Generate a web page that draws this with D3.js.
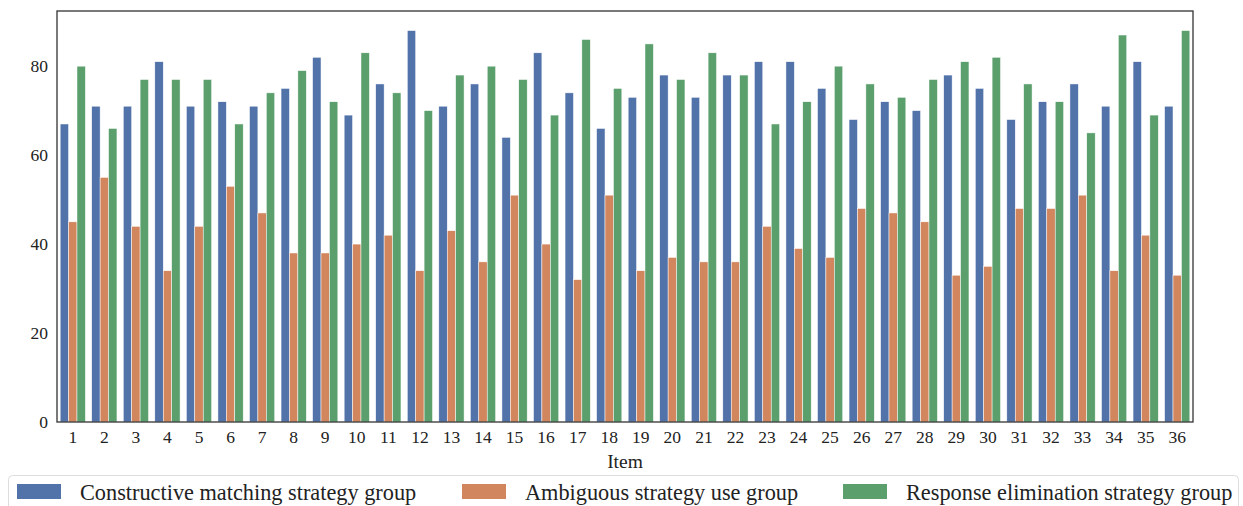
<!DOCTYPE html>
<html>
<head>
<meta charset="utf-8">
<script src="https://cdn.jsdelivr.net/npm/d3@7"></script>
<style>
  body { margin: 0; background: #fff; }
  text { font-family: "Liberation Serif", "Times New Roman", serif; fill: #222; }
</style>
</head>
<body>
<svg id="chart" width="1243" height="506"></svg>
<script>
// item numbers on the x axis
const items = d3.range(1, 37).map(String);

const seriesNames = [
  "Constructive matching strategy group",
  "Ambiguous strategy use group",
  "Response elimination strategy group"
];
const seriesColors = ["#5273AA", "#D2865E", "#5A9F6C"];

// values, one per item
const constructive = [67, 71, 71, 81, 71, 72, 71, 75, 82, 69, 76, 88, 71, 76, 64, 83, 74, 66,
                      73, 78, 73, 78, 81, 81, 75, 68, 72, 70, 78, 75, 68, 72, 76, 71, 81, 71];
const ambiguous    = [45, 55, 44, 34, 44, 53, 47, 38, 38, 40, 42, 34, 43, 36, 51, 40, 32, 51,
                      34, 37, 36, 36, 44, 39, 37, 48, 47, 45, 33, 35, 48, 48, 51, 34, 42, 33];
const elimination  = [80, 66, 77, 77, 77, 67, 74, 79, 72, 83, 74, 70, 78, 80, 77, 69, 86, 75,
                      85, 77, 83, 78, 67, 72, 80, 76, 73, 77, 81, 82, 76, 72, 65, 87, 69, 88];

const yTicks = [0, 20, 40, 60, 80];

const seriesValues = [constructive, ambiguous, elimination];

const margin = {left: 57, right: 50, top: 11, bottom: 84};
const width = 1243, height = 506;
const svg = d3.select("#chart");

const x = d3.scaleBand()
    .domain(items)
    .range([margin.left, width - margin.right])
    .paddingInner(0.2)
    .paddingOuter(0.1);

const xInner = d3.scaleBand()
    .domain(d3.range(seriesNames.length))
    .range([0, x.bandwidth()]);

const yMax = d3.max(seriesValues.flat()) * 1.05;
const y = d3.scaleLinear()
    .domain([0, yMax])
    .range([height - margin.bottom, margin.top]);

// bars
const groups = svg.append("g")
  .selectAll("g")
  .data(items)
  .join("g")
    .attr("transform", d => "translate(" + x(d) + ",0)");

groups.selectAll("rect")
  .data((d, i) => seriesValues.map((vals, s) => ({s: s, v: vals[i]})))
  .join("rect")
    .attr("x", d => xInner(d.s))
    .attr("width", xInner.bandwidth())
    .attr("y", d => y(d.v))
    .attr("height", d => y(0) - y(d.v))
    .attr("fill", d => seriesColors[d.s])
    .attr("stroke", "#fff")
    .attr("stroke-width", 0.5);

// frame
svg.append("rect")
    .attr("x", margin.left)
    .attr("y", margin.top)
    .attr("width", width - margin.left - margin.right)
    .attr("height", height - margin.top - margin.bottom)
    .attr("fill", "none")
    .attr("stroke", "#333")
    .attr("stroke-width", 1.3);

// axes
const xAxis = svg.append("g")
    .attr("transform", "translate(0," + (height - margin.bottom) + ")")
    .call(d3.axisBottom(x).tickSize(0).tickPadding(9));
xAxis.select(".domain").remove();
xAxis.selectAll("text").style("font-size", "17.5px").attr("fill", "#222");

const yAxis = svg.append("g")
    .attr("transform", "translate(" + margin.left + ",0)")
    .call(d3.axisLeft(y).tickValues(yTicks).tickSize(0).tickPadding(9));
yAxis.select(".domain").remove();
yAxis.selectAll("text").style("font-size", "17.5px").attr("fill", "#222");

svg.append("text")
    .attr("x", (margin.left + width - margin.right) / 2)
    .attr("y", 468)
    .attr("text-anchor", "middle")
    .style("font-size", "19.5px")
    .text("Item");

// legend
const legend = svg.append("g");
legend.append("rect")
    .attr("x", 8.5)
    .attr("y", 475.5)
    .attr("width", 1230)
    .attr("height", 45)
    .attr("rx", 4)
    .attr("fill", "#fff")
    .attr("stroke", "#ddd");

const legendX = [17, 462, 843];
const entries = legend.selectAll("g.entry")
  .data(seriesNames)
  .join("g")
    .attr("class", "entry")
    .attr("transform", (d, i) => "translate(" + legendX[i] + ",0)");

entries.append("rect")
    .attr("x", 0)
    .attr("y", 484)
    .attr("width", 44)
    .attr("height", 15)
    .attr("fill", (d, i) => seriesColors[i]);

entries.append("text")
    .attr("x", 63)
    .attr("y", 500)
    .style("font-size", "22.3px")
    .text(d => d);
</script>
</body>
</html>
